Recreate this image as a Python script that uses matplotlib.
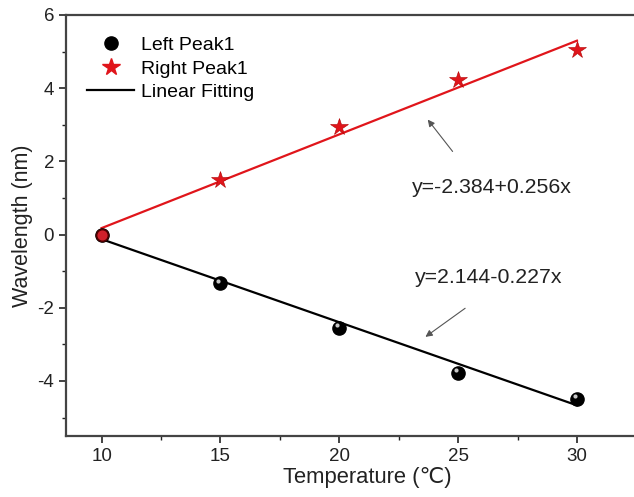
import matplotlib
matplotlib.use("Agg")
import matplotlib.pyplot as plt
import matplotlib.transforms as mtransforms
import numpy as np
from matplotlib.ticker import MultipleLocator

plt.rcParams['font.family'] = ['Liberation Sans', 'DejaVu Sans']
plt.rcParams['axes.unicode_minus'] = False

temperature = [10, 15, 20, 25, 30]
left_peak = [0.0, -1.32, -2.54, -3.77, -4.48]
right_peak = [0.0, 1.50, 2.93, 4.22, 5.03]
right_fit = (-2.384, 0.256)
left_fit = (2.144, -0.227)

fig = plt.figure(figsize=(6.34, 4.97), dpi=100)
ax = fig.add_axes([0.104, 0.123, 0.896, 0.847])

t = np.array(temperature, dtype=float)
xs = np.array([t.min(), t.max()])
red = '#e0151b'
ax.plot(xs, right_fit[0] + right_fit[1] * xs, color=red, lw=1.6, zorder=2)
ax.plot(xs, left_fit[0] + left_fit[1] * xs, color='black', lw=1.6, zorder=2)

ax.plot(temperature, left_peak, 'o', color='black', ms=9.5, zorder=3, label='Left Peak1')
hl = mtransforms.offset_copy(ax.transData, fig=fig, x=-1.5, y=1.5, units='points')
ax.plot(temperature[1:], left_peak[1:], 'o', color='#c8c8c8', ms=3, zorder=4,
        markeredgewidth=0, transform=hl)
ax.plot(temperature[1:], right_peak[1:], '*', color=red, ms=13, zorder=5,
        markeredgewidth=0.4, markeredgecolor='#b00000')
ax.plot(temperature[:1], right_peak[:1], 'o', color='#d0202a', ms=8.5, zorder=5,
        markeredgewidth=1.2, markeredgecolor='#500000')
ax.plot([], [], '*', color=red, ms=13, label='Right Peak1')
ax.plot([], [], '-', color='black', lw=1.6, label='Linear Fitting')

leg = ax.legend(loc='upper left', frameon=False, fontsize=14, handlelength=2.4,
                handletextpad=0.35, labelspacing=0.3, bbox_to_anchor=(0.007, 0.99))

ax.annotate('', xy=(23.65, 3.2), xytext=(24.84, 2.21),
            arrowprops=dict(arrowstyle='-|>', color='#555555', lw=0.8,
                            mutation_scale=10))
ax.text(23.07, 1.28, 'y=-2.384+0.256x', fontsize=15.3, ha='left', va='center',
        color='#222222')
ax.annotate('', xy=(23.53, -2.84), xytext=(25.39, -1.97),
            arrowprops=dict(arrowstyle='-|>', color='#555555', lw=0.8,
                            mutation_scale=10))
ax.text(23.2, -1.17, 'y=2.144-0.227x', fontsize=15.3, ha='left', va='center',
        color='#222222')

ax.set_xlim(8.5, 32.4)
ax.set_ylim(-5.5, 6)
ax.xaxis.set_major_locator(MultipleLocator(5))
ax.xaxis.set_minor_locator(MultipleLocator(2.5))
ax.yaxis.set_major_locator(MultipleLocator(2))
ax.yaxis.set_minor_locator(MultipleLocator(1))
ax.tick_params(which='major', direction='out', length=5, width=1.2, labelsize=13.5,
               colors='#222222', top=False, right=False)
ax.tick_params(which='minor', direction='out', length=3, width=1.0, colors='#222222',
               top=False, right=False)
for s in ax.spines.values():
    s.set_linewidth(1.6)
    s.set_color('#444444')
ax.spines['right'].set_visible(False)

ax.set_xlabel('Temperature (\u2103)', fontsize=15.8, color='#222222', labelpad=3)
ax.xaxis.set_label_coords((367 - 66) / 568, -0.075)
ax.set_ylabel('Wavelength (nm)', fontsize=15.5, color='#222222', labelpad=3)

fig.savefig('out.png', dpi=100)
